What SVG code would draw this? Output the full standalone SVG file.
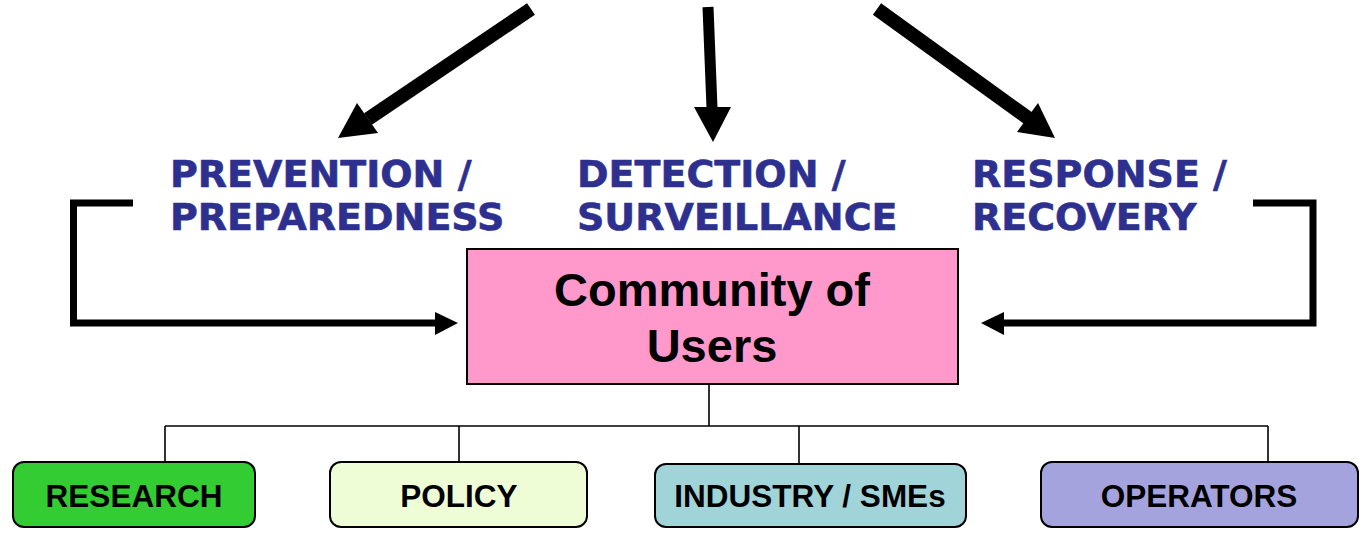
<svg xmlns="http://www.w3.org/2000/svg" width="1364" height="533" viewBox="0 0 1364 533">
<style>
.title{font-family:"DejaVu Sans",Verdana,sans-serif;font-weight:bold;font-size:38px;fill:#2E3090;stroke:#2E3090;stroke-width:0.6}
.main{font-family:"Liberation Sans",Arial,sans-serif;font-weight:bold;font-size:47px;fill:#000;text-anchor:middle}
.lbl{font-family:"Liberation Sans",Arial,sans-serif;font-weight:bold;font-size:31.5px;fill:#000;text-anchor:middle}
.thick{stroke:#000;fill:none}
.tree{stroke:#000;stroke-width:1.6;fill:none}
.box{stroke:#000;stroke-width:2}
</style>
<rect width="1364" height="533" fill="#fff"/>
<g id="connectors">
  <line class="thick" x1="531" y1="9" x2="368" y2="119" stroke-width="14"/>
  <polygon points="338,138 357,103 378,133" fill="#000"/>
  <line class="thick" x1="708" y1="7" x2="712" y2="108" stroke-width="11"/>
  <polygon points="694,107 731,107 713,142" fill="#000"/>
  <line class="thick" x1="877" y1="9" x2="1028" y2="118" stroke-width="14"/>
  <polygon points="1055,138 1017,132 1038,103" fill="#000"/>
  <path class="thick" stroke-width="7" d="M133,203 H73.5 V323 H437"/>
  <polygon points="435,312 458,323 435,335" fill="#000"/>
  <path class="thick" stroke-width="7" d="M1253,203 H1313 V323 H1004"/>
  <polygon points="1004,312 981,323 1004,335" fill="#000"/>
  <path class="tree" d="M709,384 V426 M165,426 H1268 M165,426 V462 M459,426 V462 M799,426 V464 M1268,426 V462"/>
</g>
<g id="prevention">
  <text class="title" x="170" y="187">PREVENTION /</text>
  <text class="title" x="170" y="230">PREPAREDNESS</text>
</g>
<g id="detection">
  <text class="title" x="577" y="187">DETECTION /</text>
  <text class="title" x="577" y="230">SURVEILLANCE</text>
</g>
<g id="response">
  <text class="title" x="972" y="187">RESPONSE /</text>
  <text class="title" x="972" y="230">RECOVERY</text>
</g>
<g id="community">
  <rect class="box" x="467" y="249" width="491" height="135" fill="#FF99CC"/>
  <text class="main" x="712" y="306">Community of</text>
  <text class="main" x="712" y="362">Users</text>
</g>
<g id="research">
  <rect class="box" x="13" y="462" width="242" height="65" rx="11" fill="#33CC33"/>
  <text class="lbl" x="134" y="507">RESEARCH</text>
</g>
<g id="policy">
  <rect class="box" x="330" y="462" width="257" height="65" rx="11" fill="#EEFDD5"/>
  <text class="lbl" x="459" y="507">POLICY</text>
</g>
<g id="industry">
  <rect class="box" x="655" y="464" width="311" height="63" rx="11" fill="#A1D4D8"/>
  <text class="lbl" x="810" y="507">INDUSTRY / SMEs</text>
</g>
<g id="operators">
  <rect class="box" x="1041" y="462" width="317" height="65" rx="11" fill="#A5A3DE"/>
  <text class="lbl" x="1199" y="507">OPERATORS</text>
</g>
</svg>
